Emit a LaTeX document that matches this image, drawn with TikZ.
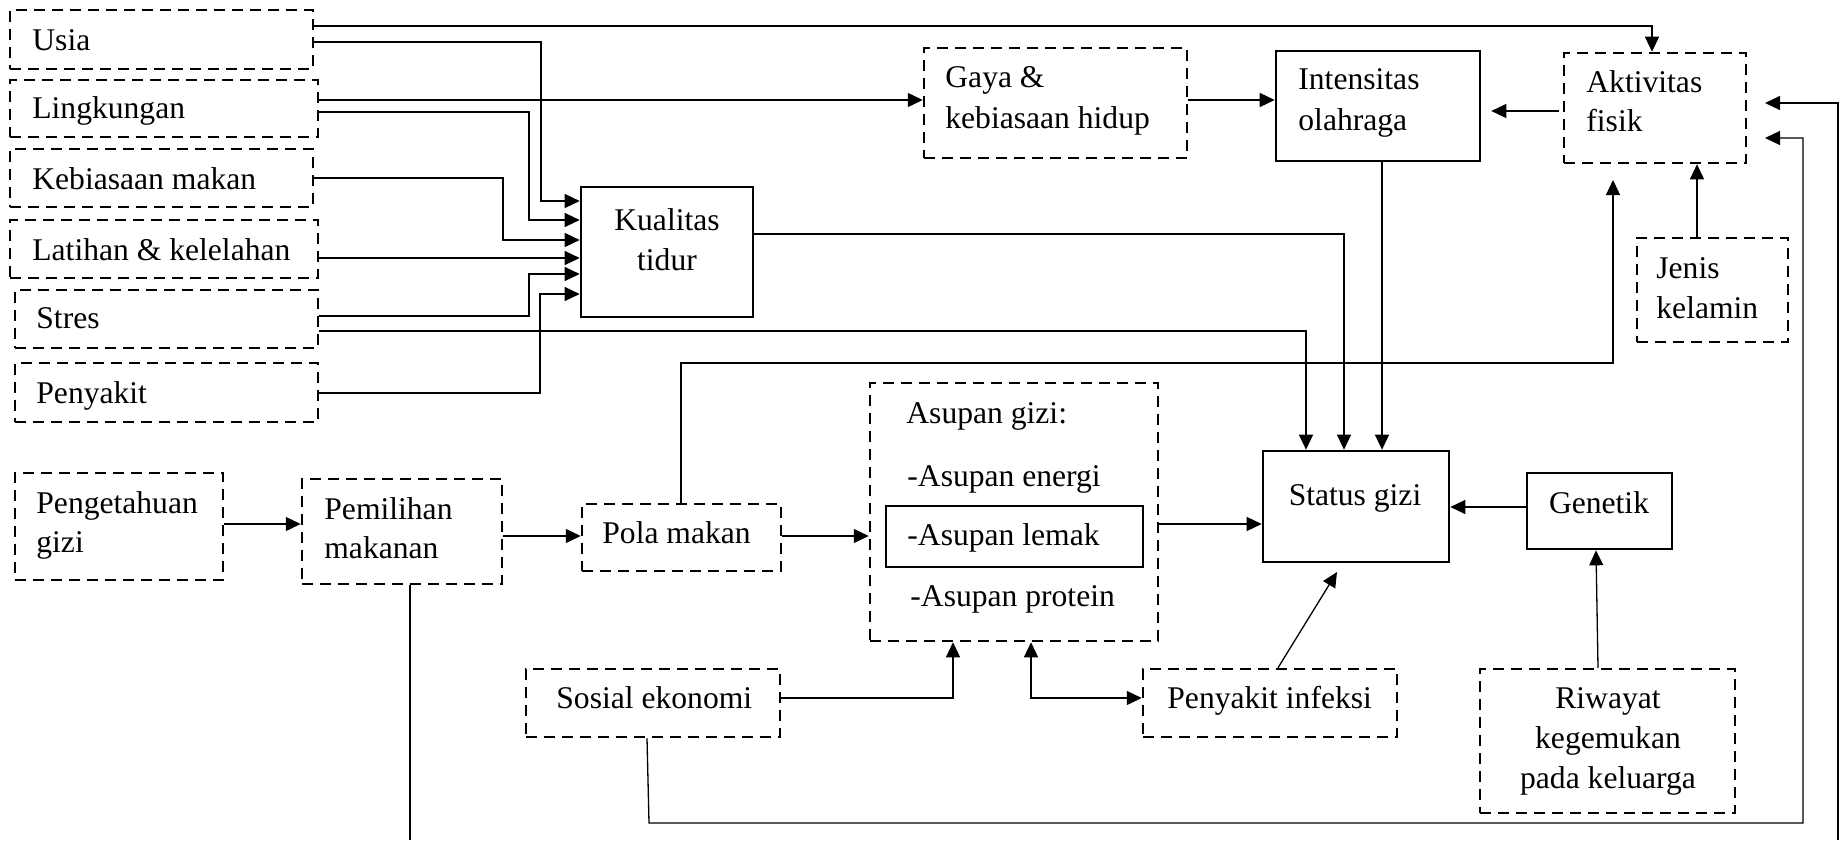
\documentclass[tikz,border=0pt]{standalone}
\usepackage{fontspec}
\setmainfont{Liberation Serif}
\usetikzlibrary{arrows.meta,fit}
\tikzset{Tri/.tip={Triangle[length=7.5pt,width=7pt]}}
\begin{document}
\begin{tikzpicture}[x=0.5pt,y=-0.5pt,
  dbox/.style={draw,line width=1.25pt,dash pattern=on 5.5pt off 3.5pt,inner sep=0pt},
  sbox/.style={draw,line width=1.3pt,inner sep=0pt},
  txt/.style={inner sep=0pt,font=\fontsize{15.8pt}{20pt}\selectfont,anchor=base west},
  ctxt/.style={txt,anchor=base},
  conn/.style={line width=0.65pt},
  arr/.style={conn,-Tri},
]
\useasboundingbox (0,0) rectangle (1840,840);

% boxes
\node[dbox,fit={(10,10)(313,69)}] (usia) {};
\node[dbox,fit={(10,80)(318,137)}] (ling) {};
\node[dbox,fit={(10,149)(313,207)}] (keb) {};
\node[dbox,fit={(10,220)(318,278)}] (lat) {};
\node[dbox,fit={(15,290)(318,348)}] (stres) {};
\node[dbox,fit={(15,363)(318,422)}] (peny) {};
\node[sbox,fit={(581,187)(753,317)}] (kual) {};
\node[dbox,fit={(924,48)(1187,158)}] (gaya) {};
\node[sbox,fit={(1276,51)(1480,161)}] (inten) {};
\node[dbox,fit={(1564,53)(1746,163)}] (aktiv) {};
\node[dbox,fit={(1637,238)(1788,342)}] (jenis) {};
\node[dbox,fit={(15,473)(223,580)}] (peng) {};
\node[dbox,fit={(302,479)(502,584)}] (pemil) {};
\node[dbox,fit={(582,504)(781,571)}] (pola) {};
\node[dbox,fit={(870,383)(1158,641)}] (asup) {};
\node[sbox,line width=1.2pt,fit={(886,506)(1143,567)}] (lemak) {};
\node[sbox,fit={(1263,451)(1449,562)}] (stat) {};
\node[sbox,fit={(1527,473)(1672,549)}] (gen) {};
\node[dbox,fit={(526,669)(780,737)}] (sos) {};
\node[dbox,fit={(1143,669)(1397,737)}] (pinf) {};
\node[dbox,fit={(1480,669)(1735,813)}] (riw) {};

% texts
\node[txt] (tUsia) at (32,51) {Usia};
\node[txt] (tLing) at (32,119) {Lingkungan};
\node[txt] (tKeb) at (32,189) {Kebiasaan makan};
\node[txt] (tLat) at (32,260) {Latihan \& kelelahan};
\node[txt] (tStres) at (36,328) {Stres};
\node[txt] (tPeny) at (36,403) {Penyakit};
\node[ctxt] (tKual1) at (667,230) {Kualitas};
\node[ctxt] (tKual2) at (667,270) {tidur};
\node[txt] (tGaya1) at (945,88) {Gaya \&};
\node[txt] (tGaya2) at (945,128) {kebiasaan hidup};
\node[txt] (tInt1) at (1298,90) {Intensitas};
\node[txt] (tInt2) at (1298,130) {olahraga};
\node[txt] (tAkt1) at (1586,92) {Aktivitas};
\node[txt] (tAkt2) at (1586,132) {fisik};
\node[txt] (tJen1) at (1656,278) {Jenis};
\node[txt] (tJen2) at (1656,318) {kelamin};
\node[txt] (tPeng1) at (36,513) {Pengetahuan};
\node[txt] (tPeng2) at (36,552) {gizi};
\node[txt] (tPem1) at (324,519) {Pemilihan};
\node[txt] (tPem2) at (324,558) {makanan};
\node[txt] (tPola) at (602,543) {Pola makan};
\node[txt] (tAs0) at (906,423) {Asupan gizi:};
\node[txt] (tAs1) at (907,486) {-Asupan energi};
\node[txt] (tAs2) at (907,545) {-Asupan lemak};
\node[txt] (tAs3) at (910,606) {-Asupan protein};
\node[ctxt] (tStat) at (1355,505) {Status gizi};
\node[ctxt] (tGen) at (1599,513) {Genetik};
\node[txt] (tSos) at (556,708) {Sosial ekonomi};
\node[txt] (tPinf) at (1167,708) {Penyakit infeksi};
\node[ctxt] (tRiw1) at (1608,708) {Riwayat};
\node[ctxt] (tRiw2) at (1608,748) {kegemukan};
\node[ctxt] (tRiw3) at (1608,788) {pada keluarga};

% free ends
\coordinate (pmEnd) at (1613,180);
\coordinate (piEnd) at (1337,572);
\coordinate (soEnd) at (1765,138);
\coordinate (edgeEnd) at (1765,103);
\coordinate (edgeL) at (410,840);
\coordinate (edgeR) at (1838,840);

% connectors into Kualitas tidur
\draw[arr] (usia.east |- 0,42) -| (541,201) -- (kual.west |- 0,201);
\draw[arr] (ling.east |- 0,112) -| (529,220) -- (kual.west |- 0,220);
\draw[arr] (keb.east |- 0,178) -| (503,240) -- (kual.west |- 0,240);
\draw[arr] (lat.east |- 0,258) -- (kual.west |- 0,258);
\draw[arr] (stres.east |- 0,316) -| (529,274) -- (kual.west |- 0,274);
\draw[arr] (peny.east |- 0,393) -| (540,294) -- (kual.west |- 0,294);

% top row
\draw[arr] (usia.east |- 0,26) -| (aktiv.north -| 1652,0);
\draw[arr] (ling.east |- 0,100) -- (gaya.west |- 0,100);
\draw[arr] (gaya.east |- 0,100) -- (inten.west |- 0,100);
\draw[arr,shorten <=2pt,shorten >=5pt] (aktiv.west |- 0,111) -- (inten.east |- 0,111);
\draw[arr] (jenis.north -| 1697,0) -- (aktiv.south -| 1697,0);

% into Status gizi
\draw[arr] (stres.east |- 0,331) -| (stat.north -| 1306,0);
\draw[arr] (kual.east |- 0,234) -| (stat.north -| 1344,0);
\draw[arr] (inten.south -| 1382,0) -- (stat.north -| 1382,0);
\draw[arr] (asup.east |- 0,524) -- (stat.west |- 0,524);
\draw[arr] (gen.west |- 0,507) -- (stat.east |- 0,507);
\draw[arr] (riw.north -| 1598,0) -- (gen.south -| 1596,0);
\draw[arr] (pinf.north -| 1278,0) -- (piEnd);

% middle row
\draw[arr] (pola.north -| 681,0) |- (1613,363) -- (pmEnd);
\draw[arr] (peng.east |- 0,524) -- (pemil.west |- 0,524);
\draw[arr] (pemil.east |- 0,536) -- (pola.west |- 0,536);
\draw[arr] (pola.east |- 0,536) -- (asup.west |- 0,536);
\draw[arr] (sos.east |- 0,698) -| (asup.south -| 953,0);
\draw[conn,Tri-Tri] (asup.south -| 1031,0) |- (pinf.west |- 0,698);

% long returns
\draw[arr] (sos.south -| 647,0) -- (649,823) -| (1803,138) -- (soEnd);
\draw[conn] (pemil.south -| 410,0) -- (edgeL);
\draw[arr] (edgeR) |- (edgeEnd);
\end{tikzpicture}
\end{document}
